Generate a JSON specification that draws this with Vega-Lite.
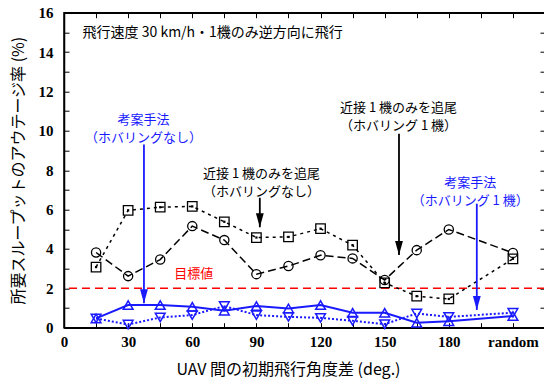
{
  "$schema": "https://vega.github.io/schema/vega-lite/v6.json",
  "width": 481,
  "height": 315,
  "autosize": "none",
  "padding": {"left": 64, "top": 12.7, "right": 0, "bottom": 51.3},
  "background": "white",
  "config": {"view": {"stroke": "black", "strokeWidth": 1.5}, "axis": {"grid": false}},
  "datasets": {
    "series": [
      {"angle": 15, "series": "track_nohover", "value": 3.08},
      {"angle": 30, "series": "track_nohover", "value": 5.96},
      {"angle": 45, "series": "track_nohover", "value": 6.12},
      {"angle": 60, "series": "track_nohover", "value": 6.16},
      {"angle": 75, "series": "track_nohover", "value": 5.38},
      {"angle": 90, "series": "track_nohover", "value": 4.58},
      {"angle": 105, "series": "track_nohover", "value": 4.61},
      {"angle": 120, "series": "track_nohover", "value": 5.03},
      {"angle": 135, "series": "track_nohover", "value": 4.19},
      {"angle": 150, "series": "track_nohover", "value": 2.28},
      {"angle": 165, "series": "track_nohover", "value": 1.6},
      {"angle": 180, "series": "track_nohover", "value": 1.46},
      {"angle": 210, "series": "track_nohover", "value": 3.5},
      {"angle": 15, "series": "track_hover1", "value": 3.82},
      {"angle": 30, "series": "track_hover1", "value": 2.62},
      {"angle": 45, "series": "track_hover1", "value": 3.46},
      {"angle": 60, "series": "track_hover1", "value": 5.16},
      {"angle": 75, "series": "track_hover1", "value": 4.45},
      {"angle": 90, "series": "track_hover1", "value": 2.72},
      {"angle": 105, "series": "track_hover1", "value": 3.13},
      {"angle": 120, "series": "track_hover1", "value": 3.68},
      {"angle": 135, "series": "track_hover1", "value": 3.52},
      {"angle": 150, "series": "track_hover1", "value": 2.42},
      {"angle": 165, "series": "track_hover1", "value": 3.94},
      {"angle": 180, "series": "track_hover1", "value": 4.99},
      {"angle": 210, "series": "track_hover1", "value": 3.8},
      {"angle": 15, "series": "prop_nohover", "value": 0.47},
      {"angle": 30, "series": "prop_nohover", "value": 1.15},
      {"angle": 45, "series": "prop_nohover", "value": 1.15},
      {"angle": 60, "series": "prop_nohover", "value": 1.06},
      {"angle": 75, "series": "prop_nohover", "value": 0.86},
      {"angle": 90, "series": "prop_nohover", "value": 1.1},
      {"angle": 105, "series": "prop_nohover", "value": 0.98},
      {"angle": 120, "series": "prop_nohover", "value": 1.15},
      {"angle": 135, "series": "prop_nohover", "value": 0.76},
      {"angle": 150, "series": "prop_nohover", "value": 0.76},
      {"angle": 165, "series": "prop_nohover", "value": 0.25},
      {"angle": 180, "series": "prop_nohover", "value": 0.33},
      {"angle": 210, "series": "prop_nohover", "value": 0.59},
      {"angle": 15, "series": "prop_hover1", "value": 0.47},
      {"angle": 30, "series": "prop_hover1", "value": 0.16},
      {"angle": 45, "series": "prop_hover1", "value": 0.52},
      {"angle": 60, "series": "prop_hover1", "value": 0.64},
      {"angle": 75, "series": "prop_hover1", "value": 1.1},
      {"angle": 90, "series": "prop_hover1", "value": 0.64},
      {"angle": 105, "series": "prop_hover1", "value": 0.55},
      {"angle": 120, "series": "prop_hover1", "value": 0.5},
      {"angle": 135, "series": "prop_hover1", "value": 0.35},
      {"angle": 150, "series": "prop_hover1", "value": 0.18},
      {"angle": 165, "series": "prop_hover1", "value": 0.72},
      {"angle": 180, "series": "prop_hover1", "value": 0.55},
      {"angle": 210, "series": "prop_hover1", "value": 0.76}
    ],
    "target": [{"value": 2}],
    "arrows": [
      {"x": 37.4, "top": 9.3, "tip": 1.24, "role": "proposed"},
      {"x": 91.6, "top": 6.6, "tip": 5.1, "role": "tracking"},
      {"x": 156.7, "top": 9.85, "tip": 3.69, "role": "tracking"},
      {"x": 193.1, "top": 6.3, "tip": 0.9, "role": "proposed"}
    ],
    "labels": [
      {"x": 37.2, "y": 10.565, "text": ["考案手法", "（ホバリングなし）"], "role": "proposed"},
      {"x": 92.4, "y": 7.815, "text": ["近接 1 機のみを追尾", "（ホバリングなし）"], "role": "tracking"},
      {"x": 156.5, "y": 11.175, "text": ["近接 1 機のみを追尾", "（ホバリング 1 機）"], "role": "tracking"},
      {"x": 190, "y": 7.375, "text": ["考案手法", "（ホバリング 1 機）"], "role": "proposed"},
      {"x": 60.7, "y": 2.73, "text": ["目標値"], "role": "target"}
    ],
    "note": [{"x": 8.7, "y": 14.95, "text": "飛行速度 30 km/h・1機のみ逆方向に飛行"}]
  },
  "layer": [
    {
      "data": {"name": "target"},
      "mark": {"type": "rule", "color": "red", "strokeDash": [8, 5], "strokeWidth": 1.5},
      "encoding": {
        "y": {"field": "value", "type": "quantitative", "scale": {"domain": [0, 16], "nice": false}, "axis": null}
      }
    },
    {
      "data": {"name": "series"},
      "transform": [{"filter": "datum.series == 'track_nohover'"}],
      "mark": {"type": "line", "color": "black", "strokeDash": [3, 4], "strokeWidth": 1.5},
      "encoding": {
        "x": {"field": "angle", "type": "quantitative", "scale": {"domain": [0, 225], "nice": false},
          "axis": {"orient": "bottom", "values": [0, 15, 30, 45, 60, 75, 90, 105, 120, 135, 150, 165, 180, 195, 210, 225],
            "labelExpr": "datum.value == 210 ? 'random' : ((datum.value % 30 == 0 && datum.value <= 180) ? datum.label : '')",
            "tickSize": -5, "tickColor": "black", "domainColor": "black", "domainWidth": 1.5,
            "labelFont": "Liberation Serif", "labelFontWeight": "bold", "labelFontSize": 15, "labelColor": "black",
            "labelPadding": 12, "labelFlush": false, "labelOverlap": false, "labelBound": false,
            "title": "UAV 間の初期飛行角度差 (deg.)", "titleFont": "Noto Sans CJK JP", "titleFontSize": 16,
            "titleFontWeight": "normal", "titleColor": "black", "titleX": 224, "titleY": 42,
            "titleBaseline": "middle", "titleAlign": "center"}},
        "y": {"field": "value", "type": "quantitative", "scale": {"domain": [0, 16], "nice": false},
          "axis": {"orient": "left", "values": [0, 1, 2, 3, 4, 5, 6, 7, 8, 9, 10, 11, 12, 13, 14, 15, 16],
            "labelExpr": "datum.value % 2 == 0 ? datum.label : ''",
            "tickSize": -5, "tickColor": "black", "domainColor": "black", "domainWidth": 1.5,
            "labelFont": "Liberation Serif", "labelFontWeight": "bold", "labelFontSize": 15, "labelColor": "black",
            "labelPadding": 16, "labelFlush": false, "labelOverlap": false, "labelBound": false,
            "title": "所要スループットのアウテージ率 (%)", "titleFont": "Noto Sans CJK JP", "titleFontSize": 16,
            "titleFontWeight": "normal", "titleColor": "black", "titleX": -46, "titleBaseline": "middle"}}
      }
    },
    {
      "data": {"name": "series"},
      "transform": [{"filter": "datum.series == 'track_hover1'"}],
      "mark": {"type": "line", "color": "black", "strokeDash": [8, 4], "strokeWidth": 1.5},
      "encoding": {
        "x": {"field": "angle", "type": "quantitative", "scale": {"domain": [0, 225], "nice": false}, "axis": null},
        "y": {"field": "value", "type": "quantitative", "axis": null}
      }
    },
    {
      "data": {"name": "series"},
      "transform": [{"filter": "datum.series == 'prop_nohover'"}],
      "mark": {"type": "line", "color": "#1a1aff", "strokeWidth": 2},
      "encoding": {
        "x": {"field": "angle", "type": "quantitative", "axis": null},
        "y": {"field": "value", "type": "quantitative", "axis": null}
      }
    },
    {
      "data": {"name": "series"},
      "transform": [{"filter": "datum.series == 'prop_hover1'"}],
      "mark": {"type": "line", "color": "#1a1aff", "strokeDash": [2, 2], "strokeWidth": 2},
      "encoding": {
        "x": {"field": "angle", "type": "quantitative", "axis": null},
        "y": {"field": "value", "type": "quantitative", "axis": null}
      }
    },
    {
      "data": {"name": "series"},
      "transform": [{"filter": "datum.series == 'track_nohover'"}],
      "mark": {"type": "point", "shape": "square", "filled": false, "color": "black", "size": 90, "strokeWidth": 1.3, "opacity": 1},
      "encoding": {
        "x": {"field": "angle", "type": "quantitative",
          "axis": {"orient": "top", "values": [0, 15, 30, 45, 60, 75, 90, 105, 120, 135, 150, 165, 180, 195, 210, 225],
            "labels": false, "tickSize": -5, "tickColor": "black", "domainColor": "black", "domainWidth": 1.5, "title": null}},
        "y": {"field": "value", "type": "quantitative",
          "axis": {"orient": "right", "values": [0, 1, 2, 3, 4, 5, 6, 7, 8, 9, 10, 11, 12, 13, 14, 15, 16],
            "labels": false, "tickSize": -5, "tickColor": "black", "domainColor": "black", "domainWidth": 1.5, "title": null}}
      }
    },
    {
      "data": {"name": "series"},
      "transform": [{"filter": "datum.series == 'track_nohover'"}],
      "mark": {"type": "point", "shape": "square", "filled": true, "color": "black", "size": 5, "opacity": 1},
      "encoding": {
        "x": {"field": "angle", "type": "quantitative", "axis": null},
        "y": {"field": "value", "type": "quantitative", "axis": null}
      }
    },
    {
      "data": {"name": "series"},
      "transform": [{"filter": "datum.series == 'track_hover1'"}],
      "mark": {"type": "point", "shape": "circle", "filled": false, "color": "black", "size": 85, "strokeWidth": 1.3, "opacity": 1},
      "encoding": {
        "x": {"field": "angle", "type": "quantitative", "axis": null},
        "y": {"field": "value", "type": "quantitative", "axis": null}
      }
    },
    {
      "data": {"name": "series"},
      "transform": [{"filter": "datum.series == 'prop_nohover'"}],
      "mark": {"type": "point", "shape": "triangle-up", "filled": false, "color": "#1a1aff", "size": 95, "strokeWidth": 1.5, "opacity": 1},
      "encoding": {
        "x": {"field": "angle", "type": "quantitative", "axis": null},
        "y": {"field": "value", "type": "quantitative", "axis": null}
      }
    },
    {
      "data": {"name": "series"},
      "transform": [{"filter": "datum.series == 'prop_hover1'"}],
      "mark": {"type": "point", "shape": "triangle-down", "filled": false, "color": "#1a1aff", "size": 95, "strokeWidth": 1.5, "opacity": 1},
      "encoding": {
        "x": {"field": "angle", "type": "quantitative", "axis": null},
        "y": {"field": "value", "type": "quantitative", "axis": null}
      }
    },
    {
      "data": {"name": "arrows"},
      "mark": {"type": "rule", "strokeWidth": 1.8},
      "encoding": {
        "x": {"field": "x", "type": "quantitative", "axis": null},
        "y": {"field": "top", "type": "quantitative", "axis": null},
        "y2": {"field": "tip"},
        "color": {"field": "role", "type": "nominal", "scale": {"domain": ["proposed", "tracking", "target"], "range": ["#1a1aff", "black", "red"]}, "legend": null}
      }
    },
    {
      "data": {"name": "arrows"},
      "mark": {"type": "point", "shape": "M-0.28,-1L0.28,-1L0,0Z", "filled": true, "size": 784, "opacity": 1, "strokeWidth": 0},
      "encoding": {
        "x": {"field": "x", "type": "quantitative", "axis": null},
        "y": {"field": "tip", "type": "quantitative", "axis": null},
        "color": {"field": "role", "type": "nominal", "legend": null}
      }
    },
    {
      "data": {"name": "labels"},
      "mark": {"type": "text", "font": "Noto Sans CJK JP", "fontSize": 13, "align": "center", "baseline": "middle", "lineHeight": 18.5},
      "encoding": {
        "x": {"field": "x", "type": "quantitative", "axis": null},
        "y": {"field": "y", "type": "quantitative", "axis": null},
        "text": {"field": "text"},
        "color": {"field": "role", "type": "nominal", "legend": null}
      }
    },
    {
      "data": {"name": "note"},
      "mark": {"type": "text", "font": "Noto Sans CJK JP", "fontSize": 14, "align": "left", "baseline": "middle", "color": "black"},
      "encoding": {
        "x": {"field": "x", "type": "quantitative", "axis": null},
        "y": {"field": "y", "type": "quantitative", "axis": null},
        "text": {"field": "text"}
      }
    }
  ]
}
